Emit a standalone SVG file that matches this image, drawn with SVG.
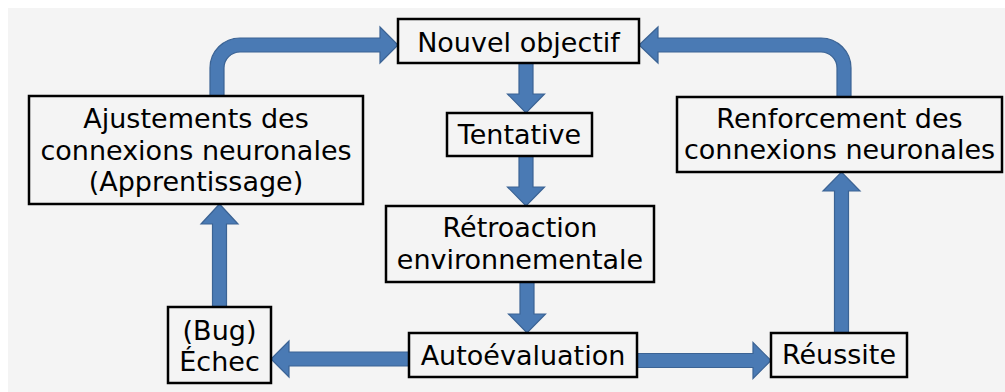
<svg xmlns="http://www.w3.org/2000/svg" width="1005" height="392" viewBox="0 0 1005 392">
  <style>
    .box { fill: #f4f4f4; stroke: #000; stroke-width: 2.5; }
    .lbl { font-family: "DejaVu Sans", "Noto Sans", sans-serif; font-size: 27px; fill: #000; text-anchor: middle; }
    .arr { fill: #4a7ab4; stroke: #3b6394; stroke-width: 1.2; stroke-linejoin: miter; }
  </style>

  <!-- page background -->
  <rect x="0" y="0" width="1005" height="392" fill="#ffffff"/>
  <rect x="8" y="8" width="997" height="384" fill="#f4f4f4"/>

  <!-- connectors -->
  <g id="connectors">
    <!-- Nouvel objectif -> Tentative -->
    <path class="arr" d="M519 63 L533 63 L533 94 L544.5 94 L526 113 L507.5 94 L519 94 Z"/>
    <!-- Tentative -> Rétroaction -->
    <path class="arr" d="M519 156 L533 156 L533 187 L544.5 187 L526 206 L507.5 187 L519 187 Z"/>
    <!-- Rétroaction -> Autoévaluation -->
    <path class="arr" d="M520 282 L534 282 L534 314 L545.5 314 L527 333 L508.5 314 L520 314 Z"/>
    <!-- Autoévaluation -> Échec -->
    <path class="arr" d="M409 352 L409 366 L289 366 L289 377 L271 359 L289 341 L289 352 Z"/>
    <!-- Autoévaluation -> Réussite -->
    <path class="arr" d="M637 353.5 L637 367.5 L753 367.5 L753 378.5 L771 360.5 L753 342.5 L753 353.5 Z"/>
    <!-- Échec -> Ajustements -->
    <path class="arr" d="M212.5 307 L226.5 307 L226.5 224 L238 224 L219.5 204 L201 224 L212.5 224 Z"/>
    <!-- Réussite -> Renforcement -->
    <path class="arr" d="M834.5 333 L848.5 333 L848.5 191 L860 191 L841.5 172 L823 191 L834.5 191 Z"/>
    <!-- Ajustements -> Nouvel objectif (elbow) -->
    <path class="arr" d="M210 96 L210 68 A30 30 0 0 1 240 38 L380 38 L380 27 L398 45 L380 63 L380 52 L240 52 A16 16 0 0 0 224 68 L224 96 Z"/>
    <!-- Renforcement -> Nouvel objectif (elbow) -->
    <path class="arr" d="M851 97 L851 68 A30 30 0 0 0 821 38 L658 38 L658 27 L639 45 L658 63 L658 52 L821 52 A16 16 0 0 1 837 68 L837 97 Z"/>
  </g>

  <g id="nouvel-objectif">
    <rect class="box" x="398" y="19" width="241" height="44"/>
    <text class="lbl" x="518.5" y="52">Nouvel objectif</text>
  </g>

  <g id="tentative">
    <rect class="box" x="447" y="113" width="145" height="43"/>
    <text class="lbl" x="519.5" y="144">Tentative</text>
  </g>

  <g id="retroaction">
    <rect class="box" x="386" y="206" width="268" height="76"/>
    <text class="lbl" x="520" y="237">Rétroaction</text>
    <text class="lbl" x="520" y="269">environnementale</text>
  </g>

  <g id="autoevaluation">
    <rect class="box" x="409" y="333" width="228" height="44"/>
    <text class="lbl" x="523" y="365">Autoévaluation</text>
  </g>

  <g id="echec">
    <rect class="box" x="168" y="307" width="103" height="76"/>
    <text class="lbl" x="219.5" y="340">(Bug)</text>
    <text class="lbl" x="219.5" y="371">Échec</text>
  </g>

  <g id="reussite">
    <rect class="box" x="771" y="333" width="136" height="44"/>
    <text class="lbl" x="839" y="364">Réussite</text>
  </g>

  <g id="ajustements">
    <rect class="box" x="29" y="96" width="334" height="108"/>
    <text class="lbl" x="196" y="128">Ajustements des</text>
    <text class="lbl" x="196" y="160">connexions neuronales</text>
    <text class="lbl" x="196" y="191">(Apprentissage)</text>
  </g>

  <g id="renforcement">
    <rect class="box" x="677" y="97" width="325" height="75"/>
    <text class="lbl" x="839.5" y="128">Renforcement des</text>
    <text class="lbl" x="839.5" y="159">connexions neuronales</text>
  </g>
</svg>
